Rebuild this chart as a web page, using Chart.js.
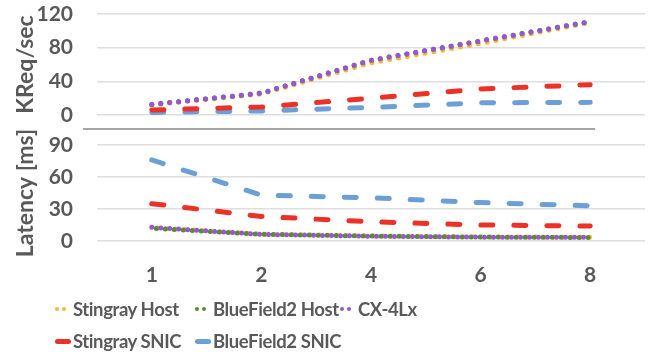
<!DOCTYPE html>
<html>
<head>
<meta charset="utf-8">
<script src="https://cdn.jsdelivr.net/npm/chart.js@4.4.0/dist/chart.umd.min.js"></script>
<style>
  body { margin: 0; background: #fff; }
  #wrap {
    position: relative; width: 650px; height: 356px; overflow: hidden;
    font-family: Lato, sans-serif; font-weight: bold; color: #595959;
  }
  #box-top { position: absolute; left: 0; top: 0; width: 650px; height: 130px; }
  #box-bottom { position: absolute; left: 0; top: 130px; width: 650px; height: 165px; }
  #sep { position: absolute; left: 83px; top: 128px; width: 512px; height: 2px; background: #a6a6a6; }
  #legend {
    position: absolute; left: 55px; top: 293px;
    display: grid; grid-template-columns: 140px 145px 90px; grid-auto-rows: 32px;
    font-size: 18.5px; letter-spacing: -0.4px;
  }
  .item { display: flex; align-items: center; white-space: nowrap; }
  .dots { display: inline-flex; gap: 3px; margin-right: 7px; flex-shrink: 0; }
  .dots span { width: 4px; height: 4px; border-radius: 50%; display: inline-block; }
  .dash { width: 16px; height: 5px; border-radius: 3px; margin-right: 2px; display: inline-block; flex-shrink: 0; }
</style>
</head>
<body>
<div id="wrap">
  <div id="box-top"><canvas id="chart-top"></canvas></div>
  <div id="sep"></div>
  <div id="box-bottom"><canvas id="chart-bottom"></canvas></div>
  <div id="legend"></div>
</div>
<script>
const CATEGORIES = ["1", "2", "4", "6", "8"];
const SERIES_NAMES = ["Stingray Host", "BlueField2 Host", "CX-4Lx", "Stingray SNIC", "BlueField2 SNIC"];

// throughput, KReq/sec
const THR_STINGRAY_HOST = [12, 25, 62, 85, 110];
const THR_BLUEFIELD2_HOST = [12.5, 26, 65, 88, 111];
const THR_CX4LX = [12.5, 26, 65, 88, 111];
const THR_STINGRAY_SNIC = [6, 9.5, 20, 31, 36];
const THR_BLUEFIELD2_SNIC = [3, 4.8, 9, 14.5, 15];

// latency, ms
const LAT_STINGRAY_HOST = [12.5, 6.5, 4.8, 3.8, 3.5];
const LAT_BLUEFIELD2_HOST = [12, 6.3, 4.6, 3.7, 3.3];
const LAT_CX4LX = [12.8, 6.2, 4.5, 3.6, 3.4];
const LAT_STINGRAY_SNIC = [35, 23, 18, 15, 14];
const LAT_BLUEFIELD2_SNIC = [76, 43, 40.5, 36, 33];

const COLORS = ["#f7b93a", "#5a8a35", "#9556d6", "#ec3127", "#6b9fd6"];
const DOTTED = [true, true, true, false, false];
const DRAW_ORDER = [2, 1, 0, 3, 4];
// dot phase per series, so the host lines interleave a bit in the latency panel
const OFFSET_TOP = [0, 0, 0, 0, 0];
const OFFSET_BOTTOM = [3, 4.5, 0, 0, 0];

const TEXT_COLOR = "#595959";
const GRID_COLOR = "#dedede";
const FONT = "Lato, sans-serif";

function lineStyle(i) {
  if (DOTTED[i]) return { borderDash: [0, 9], borderWidth: 5, borderCapStyle: "round" };
  return { borderDash: [12, 21], borderWidth: 5, borderCapStyle: "round" };
}

function makeChart(canvasId, series, max, step, title, showX, offsets) {
  return new Chart(document.getElementById(canvasId), {
    type: "line",
    data: {
      labels: CATEGORIES,
      datasets: series.map((values, i) => ({
        label: SERIES_NAMES[i],
        data: values,
        borderColor: COLORS[i],
        backgroundColor: COLORS[i],
        pointRadius: 0,
        tension: 0,
        fill: false,
        order: DRAW_ORDER[i],
        borderDashOffset: offsets[i],
        ...lineStyle(i),
      })),
    },
    options: {
      responsive: true,
      maintainAspectRatio: false,
      animation: false,
      layout: { padding: { left: 8, right: 5, top: showX ? 15 : 14, bottom: showX ? 0 : 15 } },
      plugins: { legend: { display: false }, tooltip: { enabled: false } },
      scales: {
        x: {
          display: showX,
          offset: true,
          grid: { display: false, drawTicks: false },
          border: { display: false },
          ticks: { color: TEXT_COLOR, font: { family: FONT, size: 21, weight: "bold" }, padding: 22 },
          afterFit: (s) => { if (showX) s.height = 54; },
        },
        y: {
          min: 0,
          max: max,
          ticks: { stepSize: step, autoSkip: false, color: TEXT_COLOR, font: { family: FONT, size: 21, weight: "bold" }, padding: 24 },
          grid: { color: GRID_COLOR, lineWidth: 1.5, drawTicks: false },
          border: { display: false },
          title: { display: true, text: title, color: TEXT_COLOR, font: { family: FONT, size: 23, weight: "bold" } },
          afterFit: (s) => {
            s.width = 89;
            s.paddingTop = 0;
            s.paddingBottom = 0;
          },
        },
      },
    },
  });
}

function buildLegend() {
  const box = document.getElementById("legend");
  SERIES_NAMES.forEach((name, i) => {
    const item = document.createElement("div");
    item.className = "item";
    let marker;
    if (DOTTED[i]) {
      marker = document.createElement("span");
      marker.className = "dots";
      for (let k = 0; k < 2; k++) {
        const d = document.createElement("span");
        d.style.background = COLORS[i];
        marker.appendChild(d);
      }
    } else {
      marker = document.createElement("span");
      marker.className = "dash";
      marker.style.background = COLORS[i];
    }
    item.appendChild(marker);
    item.appendChild(document.createTextNode(name));
    box.appendChild(item);
  });
}

makeChart("chart-top",
  [THR_STINGRAY_HOST, THR_BLUEFIELD2_HOST, THR_CX4LX, THR_STINGRAY_SNIC, THR_BLUEFIELD2_SNIC],
  120, 40, "KReq/sec", false, OFFSET_TOP);
makeChart("chart-bottom",
  [LAT_STINGRAY_HOST, LAT_BLUEFIELD2_HOST, LAT_CX4LX, LAT_STINGRAY_SNIC, LAT_BLUEFIELD2_SNIC],
  90, 30, "Latency [ms]", true, OFFSET_BOTTOM);
buildLegend();
</script>
</body>
</html>
